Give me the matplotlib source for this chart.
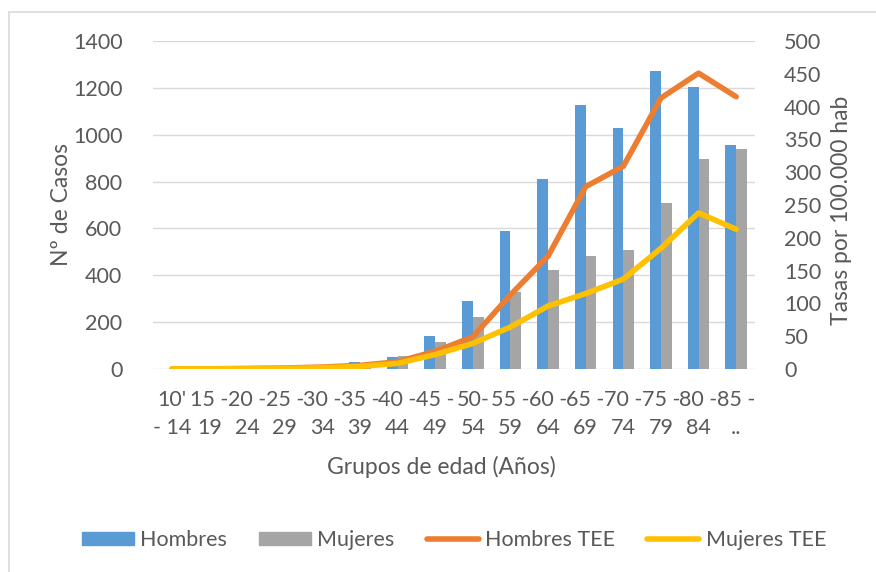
import matplotlib.pyplot as plt
import numpy as np
from matplotlib.patches import Rectangle, Patch
from matplotlib.lines import Line2D

plt.rcParams['font.family'] = ['Lato', 'DejaVu Sans']

# age groups, labels wrapped like the original
grupos = ["10'\n- 14", "15 -\n19", "20 -\n24", "25 -\n29", "30 -\n34", "35 -\n39",
          "40 -\n44", "45 -\n49", "50-\n54", "55 -\n59", "60 -\n64", "65 -\n69",
          "70 -\n74", "75 -\n79", "80 -\n84", "85 -\n.."]
hombres = [0, 1, 3, 6, 12, 31, 52, 142, 290, 590, 811, 1127, 1029, 1271, 1204, 955]
mujeres = [0, 1, 2, 4, 8, 20, 55, 117, 223, 330, 421, 482, 507, 708, 896, 940]
hombres_tee = [0.1, 0.3, 0.8, 1.5, 3, 5.5, 11, 27, 49, 113, 172, 278, 309, 413, 451, 415]
mujeres_tee = [0.1, 0.2, 0.5, 1, 2, 4, 8.5, 22, 39, 64, 96, 115, 137, 184, 238, 213]

c_azul = '#5B9BD5'
c_gris = '#A5A5A5'
c_naranja = '#ED7D31'
c_amarillo = '#FFC000'
c_texto = '#595959'
c_rejilla = '#D9D9D9'
fs = 15.5
fs_tit = 16.5
lw = 4.0

fig = plt.figure(figsize=(8.76, 5.72), dpi=100)
fig.patches.append(Rectangle((9 / 876, -0.1), 1.2, 1.1 - 12 / 572, transform=fig.transFigure,
                             fill=False, edgecolor='#D9D9D9', linewidth=1.2))

ax = fig.add_axes([153 / 876, 1 - 369 / 572, 602 / 876, 328 / 572])
x = np.arange(len(grupos))
w = 0.285
ax.bar(x - w / 2, hombres, w, color=c_azul, zorder=2)
ax.bar(x + w / 2, mujeres, w, color=c_gris, zorder=2)
ax.set_xlim(-0.5, len(grupos) - 0.5)
ax.set_ylim(0, 1400)
ax.set_yticks(range(0, 1401, 200))
ax.yaxis.grid(True, color=c_rejilla, linewidth=1.0, zorder=0)
ax.set_axisbelow(True)
ax.set_xticks(x)
ax.set_xticklabels(grupos, linespacing=1.5)
for s in ax.spines.values():
    s.set_visible(False)
ax.tick_params(axis='both', length=0, labelsize=fs, colors=c_texto)
ax.tick_params(axis='y', pad=22)
ax.tick_params(axis='x', pad=15)

ax2 = ax.twinx()
ax2.plot(x, hombres_tee, color=c_naranja, linewidth=lw, solid_capstyle='round', solid_joinstyle='round')
ax2.plot(x, mujeres_tee, color=c_amarillo, linewidth=lw, solid_capstyle='round', solid_joinstyle='round')
ax2.set_ylim(0, 500)
ax2.set_yticks(range(0, 501, 50))
for s in ax2.spines.values():
    s.set_visible(False)
ax2.tick_params(axis='y', length=0, labelsize=fs, colors=c_texto, pad=21)

fig.text(62 / 876, 1 - 205 / 572, 'Nº de Casos', rotation=90, ha='center', va='center',
         fontsize=fs_tit, color=c_texto)
fig.text(841 / 876, 1 - 210 / 572, 'Tasas por 100.000 hab', rotation=90, ha='center', va='center',
         fontsize=fs_tit, color=c_texto)
fig.text(441 / 876, 1 - 467 / 572, 'Grupos de edad (Años)', ha='center', va='center',
         fontsize=fs_tit, color=c_texto)

handles = [Patch(color=c_azul), Patch(color=c_gris),
           Line2D([], [], color=c_naranja, linewidth=lw, solid_capstyle='round'),
           Line2D([], [], color=c_amarillo, linewidth=lw, solid_capstyle='round')]
leg = fig.legend(handles, ['Hombres', 'Mujeres', 'Hombres TEE', 'Mujeres TEE'],
                 loc='center', bbox_to_anchor=(454 / 876, 1 - 540 / 572), ncol=4, frameon=False,
                 fontsize=fs, handlelength=2.4, handleheight=0.6, handletextpad=0.3,
                 columnspacing=1.5, labelcolor=c_texto)

fig.savefig('out.png', dpi=100)
